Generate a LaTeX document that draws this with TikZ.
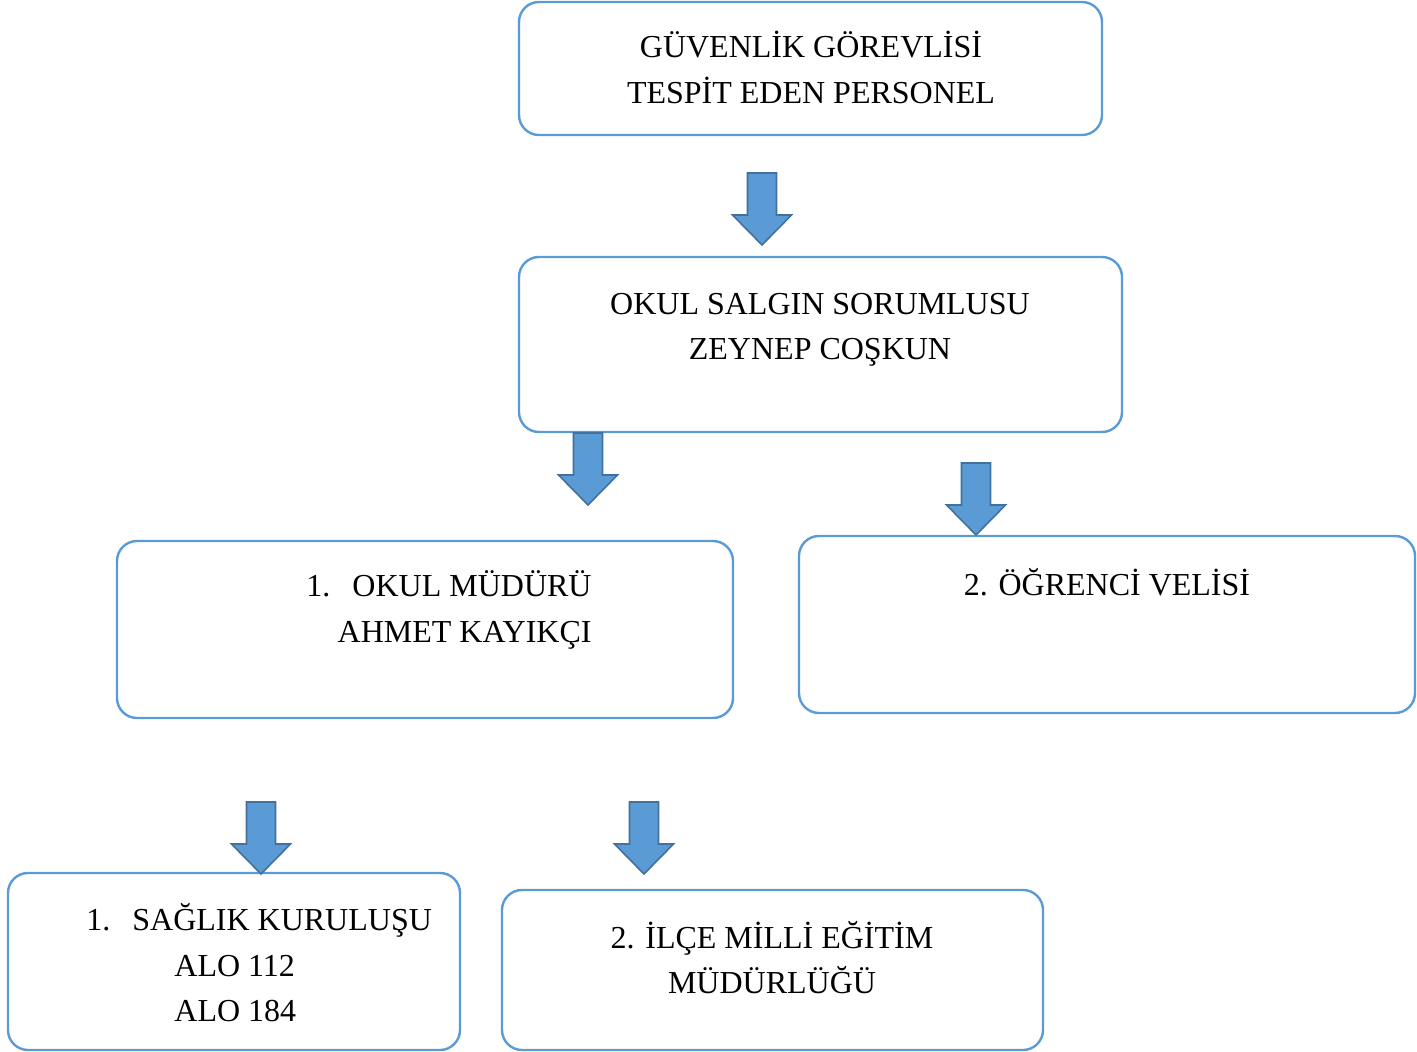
\documentclass[tikz,border=0pt]{standalone}
\usepackage{fontspec}
\setmainfont{Liberation Serif}
\definecolor{kutumavi}{HTML}{5B9BD5}
\definecolor{okkenar}{HTML}{41719C}
\tikzset{
	kutu/.style={draw=kutumavi, line width=1.2pt, rounded corners=10pt, inner sep=0pt},
	yazi/.style={font=\fontsize{16}{22.8}\selectfont, align=center, inner sep=0pt},
	ok/.style={fill=kutumavi, draw=okkenar, line width=0.8pt, line join=miter}
}

\begin{document}
\begin{tikzpicture}[x=0.5pt,y=-0.5pt]
\useasboundingbox (0,0) rectangle (1417,1052);

%Kutular
\node[kutu, minimum width=291.5pt, minimum height=66.5pt] (guvenlik) at (810.5,68.5) {};
\node[kutu, minimum width=301.5pt, minimum height=87.5pt] (salgin) at (820.5,344.5) {};
\node[kutu, minimum width=308pt, minimum height=88.5pt] (mudur) at (425,629.5) {};
\node[kutu, minimum width=308pt, minimum height=88.5pt] (veli) at (1107,624.5) {};
\node[kutu, minimum width=226pt, minimum height=88.5pt] (saglik) at (234,961.5) {};
\node[kutu, minimum width=270.5pt, minimum height=80pt] (ilce) at (772.5,970) {};

%Yazilar
\node[yazi] (guvenlikyazi) at (811,67.5) {GÜVENLİK GÖREVLİSİ\\TESPİT EDEN PERSONEL};
\node[yazi] (salginyazi) at (820,330) {OKUL SALGIN SORUMLUSU\\ZEYNEP COŞKUN};
\node[yazi, align=right, anchor=east] (mudüryazi) at (592,610) {1.\hspace{11pt}OKUL MÜDÜRÜ\\AHMET KAYIKÇI};
\node[yazi] (veliyazi) at (1107,582) {2. ÖĞRENCİ VELİSİ};
\node[yazi, align=left, anchor=west] (saglikyazi) at (86,963) {1.\hspace{11pt}SAĞLIK KURULUŞU\\\hspace*{44pt}ALO 112\\\hspace*{44pt}ALO 184};
\node[yazi] (ilceyazi) at (772,957.5) {2. İLÇE MİLLİ EĞİTİM\\MÜDÜRLÜĞÜ};

%Oklar
\foreach \x/\y in
{
762/173,
588/433,
976/463,
261/802,
644/802
}
{
	\draw[ok] (\x-14.5,\y) -- (\x+14.5,\y) -- (\x+14.5,\y+42) -- (\x+29.5,\y+42)
		-- (\x,\y+72) -- (\x-29.5,\y+42) -- (\x-14.5,\y+42) -- cycle;
}

\end{tikzpicture}
\end{document}
